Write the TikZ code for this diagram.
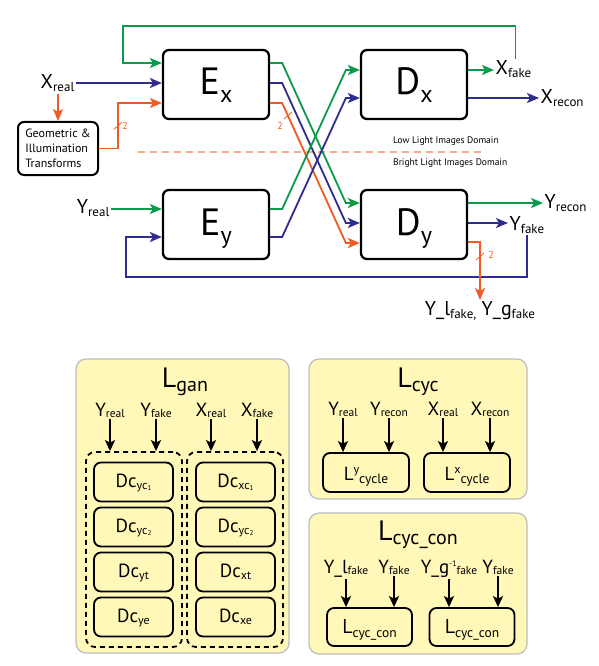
\documentclass[tikz,border=0pt]{standalone}
\usepackage{fontspec}
\setmainfont{PT Sans}
\usetikzlibrary{arrows.meta,calc}
\definecolor{cgreen}{HTML}{0B9A4A}
\definecolor{cblue}{HTML}{2E2D8F}
\definecolor{corange}{HTML}{F15A24}
\definecolor{csalmon}{HTML}{F8AC8E}
\definecolor{cpanel}{HTML}{FFF8B9}
\definecolor{cpborder}{HTML}{BDBDBD}
\newcommand\fs[1]{\fontsize{#1}{#1}\selectfont}
\newcommand\BigL[2]{{\fs{38}#1\raisebox{-8pt}{\fs{24}#2}}}
\newcommand\TopL[2]{{\fs{20}#1\raisebox{-3pt}{\fs{13}#2}}}
\newcommand\PTitle[2]{{\fs{28}#1\raisebox{-4pt}{\fs{20}#2}}}
\newcommand\PLab[2]{{\fs{19}#1\raisebox{-1.5pt}{\fs{11.5}#2}}}
\newcommand\Dcl[1]{{\fs{19}Dc\raisebox{-2pt}{\fs{12}#1}}}
\newcommand\myone{\raisebox{-1pt}{\fs{7}1}}
\newcommand\mytwo{\raisebox{-1pt}{\fs{7}2}}
\begin{document}
\begin{tikzpicture}[x=1pt,y=-1pt,
  box/.style={draw=black,line width=2.3pt,rounded corners=6pt,fill=white,minimum width=106pt,minimum height=69pt,inner sep=0pt,text height=27pt,text depth=6pt},
  gbox/.style={draw=black,line width=2pt,rounded corners=6pt,fill=white,minimum width=80pt,minimum height=53pt,align=left,inner sep=2pt,font=\fontsize{12}{15}\selectfont},
  lbl/.style={inner sep=1.5pt},
  conn/.style={line width=1.8pt},
  arr/.style={-{Stealth[length=12pt,width=10pt,inset=3pt]}},
  gr/.style={conn,draw=cgreen,arr},
  bl/.style={conn,draw=cblue,arr},
  orl/.style={conn,draw=corange,arr},
  tk/.style={draw=corange,line width=0.8pt},
  two/.style={text=corange,font=\fs{10},inner sep=0pt},
  dom/.style={font=\fs{9.5},inner sep=0pt,anchor=base west},
  panel/.style={draw=cpborder,line width=1.2pt,fill=cpanel,rounded corners=10pt,inner sep=0pt},
  dbox/.style={draw=black,line width=1.8pt,dash pattern=on 5pt off 4pt,rounded corners=9pt,inner sep=0pt,minimum width=96pt,minimum height=195pt},
  dc/.style={draw=black,line width=1.8pt,rounded corners=7pt,fill=cpanel,minimum width=79pt,minimum height=39pt,inner sep=0pt,text height=14pt,text depth=4pt},
  lc/.style={draw=black,line width=1.8pt,rounded corners=7pt,fill=cpanel,minimum width=86pt,minimum height=39pt,inner sep=0pt,text height=15pt,text depth=0pt},
  lcc/.style={draw=black,line width=1.8pt,rounded corners=7pt,fill=cpanel,minimum width=85pt,minimum height=38pt,inner sep=0pt,text height=14pt,text depth=2pt},
  karr/.style={line width=1.8pt,-{Stealth[length=11pt,width=10pt,inset=2.5pt]}}
]
\fill[white] (0,0) rectangle (598,666);
\useasboundingbox (0,0) rectangle (598,666);

% ---------- main blocks ----------
\node[box] (Ex) at (216,84.5) {\BigL{E}{x}};
\node[box] (Dx) at (414,84.5) {\BigL{D}{x}};
\node[box] (Ey) at (216,224.5) {\BigL{E}{y}};
\node[box] (Dy) at (414,224.5) {\BigL{D}{y}};
\node[gbox] (geo) at (58,148.5) {Geometric \&\\Illumination\\Transforms};

% ---------- labels ----------
\node[lbl,anchor=base east] (xr) at (76,89) {\TopL{X}{real}};
\node[lbl,anchor=base east] (yr) at (111,213) {\TopL{Y}{real}};
\node[lbl,anchor=base west] (xf) at (494,75) {\TopL{X}{fake}};
\node[lbl,anchor=base west] (xrc) at (539,103) {\TopL{X}{recon}};
\node[lbl,anchor=base west] (yrc) at (543,208) {\TopL{Y}{recon}};
\node[lbl,anchor=base west] (yf) at (508,230) {\TopL{Y}{fake}};
\node[lbl,anchor=north] (yl) at (480,300) {{\fs{20}Y\_l\raisebox{-3pt}{\fs{13}fake,} Y\_g\raisebox{-3pt}{\fs{13}fake}}};

% ---------- port coordinates ----------
\coordinate (exi1) at ([yshift=21.5pt]Ex.west);
\coordinate (exi2) at ([yshift=1.5pt]Ex.west);
\coordinate (exi3) at ([yshift=-18.5pt]Ex.west);
\coordinate (exo1) at ([yshift=21.5pt]Ex.east);
\coordinate (exo2) at ([yshift=1.5pt]Ex.east);
\coordinate (exo3) at ([yshift=-18.5pt]Ex.east);
\coordinate (eyi1) at ([yshift=15.5pt]Ey.west);
\coordinate (eyi2) at ([yshift=-12.5pt]Ey.west);
\coordinate (eyo1) at ([yshift=15.5pt]Ey.east);
\coordinate (eyo2) at ([yshift=-12.5pt]Ey.east);
\coordinate (dxi1) at ([yshift=14.5pt]Dx.west);
\coordinate (dxi2) at ([yshift=-13.5pt]Dx.west);
\coordinate (dxo1) at ([yshift=14.5pt]Dx.east);
\coordinate (dxo2) at ([yshift=-13.5pt]Dx.east);
\coordinate (dyi1) at ([yshift=21.5pt]Dy.west);
\coordinate (dyi2) at ([yshift=1.5pt]Dy.west);
\coordinate (dyi3) at ([yshift=-18.5pt]Dy.west);
\coordinate (dyo1) at ([yshift=21.5pt]Dy.east);
\coordinate (dyo2) at ([yshift=1.5pt]Dy.east);
\coordinate (dyo3) at ([yshift=-17.5pt]Dy.east);

% ---------- domain separator ----------
\draw[draw=csalmon,line width=1.5pt,dash pattern=on 7pt off 5pt] (138,152) -- (483,152);
\node[dom] (low) at (393,143.5) {Low Light Images Domain};
\node[dom] (bright) at (393,165) {Bright Light Images Domain};

% ---------- inputs ----------
\draw[bl] (exi2 -| xr.east) -- (exi2);
\draw[orl] (xr.south -| geo.north) -- (geo.north);
\draw[orl] (geo.east) -- ++(19,0) coordinate (g1) |- (exi3);
\draw[gr] (eyi1 -| yr.east) -- (eyi1);
\draw[gr] ([xshift=2pt]xf.north) |- (123,26) |- (exi1);
\draw[bl] (yf.south) |- (126,277) |- (eyi2);

% ---------- crossings ----------
\draw[gr] (exo1) -- ++(12,0) -- ($(dyi1)+(-14,0)$) -- (dyi1);
\draw[bl] (exo2) -- ++(12,0) -- ($(dyi2)+(-14,0)$) -- (dyi2);
\draw[orl] (exo3) -- ++(12,0) coordinate (ta) -- ($(dyi3)+(-14,0)$) coordinate (tb) -- (dyi3);
\draw[gr] (eyo1) -- ++(12,0) -- ($(dxi1)+(-14,0)$) -- (dxi1);
\draw[bl] (eyo2) -- ++(12,0) -- ($(dxi2)+(-14,0)$) -- (dxi2);

% ---------- outputs ----------
\draw[gr] (dxo1) -- (dxo1 -| xf.west);
\draw[bl] (dxo2) -- (dxo2 -| xrc.west);
\draw[gr] (dyo1) -- (dyo1 -| yrc.west);
\draw[bl] (dyo2) -- (dyo2 -| yf.west);
\draw[orl] (dyo3) -| (yl.north);

% ---------- "2" ticks ----------
\draw[tk] ($(ta)!0.09!(tb)$) ++(-4,3.5) -- ++(8,-7);
\node[two] (t1) at (280,126) {2};
\draw[tk] ($(g1)!0.5!(g1 |- exi3)$) ++(-4,3.5) -- ++(8,-7);
\node[two] (t2) at (125,126) {2};
\draw[tk] ($(dyo3 -| yl.north)!0.25!(yl.north)$) ++(-4,3.5) -- ++(8,-7);
\node[two] (t3) at (491,255) {2};

% ---------- panel L_gan ----------
\node[panel,minimum width=213pt,minimum height=294pt] (pgan) at (182.5,506) {};
\node[anchor=base,inner sep=0pt] (tgan) at (185,387) {\PTitle{L}{gan}};
\node[dbox] (dl) at (134,549.5) {};
\node[dbox] (dr) at (235,549.5) {};
\node[lbl,anchor=base] (ga) at (110,416) {\PLab{Y}{real}};
\node[lbl,anchor=base] (gb) at (156,416) {\PLab{Y}{fake}};
\node[lbl,anchor=base] (gc) at (211,416) {\PLab{X}{real}};
\node[lbl,anchor=base] (gd) at (257,416) {\PLab{X}{fake}};
\draw[karr] (ga.south) -- (ga.south |- dl.north);
\draw[karr] (gb.south) -- (gb.south |- dl.north);
\draw[karr] (gc.south) -- (gc.south |- dr.north);
\draw[karr] (gd.south) -- (gd.south |- dr.north);
\node[dc] (dl1) at (133.5,482) {\Dcl{yc\myone}};
\node[dc] (dl2) at (133.5,527) {\Dcl{yc\mytwo}};
\node[dc] (dl3) at (133.5,572) {\Dcl{yt}};
\node[dc] (dl4) at (133.5,617) {\Dcl{ye}};
\node[dc] (dr1) at (235.5,482) {\Dcl{xc\myone}};
\node[dc] (dr2) at (235.5,527) {\Dcl{yc\mytwo}};
\node[dc] (dr3) at (235.5,572) {\Dcl{xt}};
\node[dc] (dr4) at (235.5,617) {\Dcl{xe}};

% ---------- panel L_cyc ----------
\node[panel,minimum width=218pt,minimum height=140pt] (pcyc) at (418,429) {};
\node[anchor=base,inner sep=0pt] (tcyc) at (418,387) {\PTitle{L}{cyc}};
\node[lbl,anchor=base] (ca) at (343,415) {\PLab{Y}{real}};
\node[lbl,anchor=base] (cb) at (389,415) {\PLab{Y}{recon}};
\node[lbl,anchor=base] (cc) at (443,415) {\PLab{X}{real}};
\node[lbl,anchor=base] (cd) at (490,415) {\PLab{X}{recon}};
\node[lc] (ly) at (366,472.5) {{\fs{19}L\raisebox{7pt}{\fs{12}y}\raisebox{-3pt}{\fs{13.5}cycle}}};
\node[lc] (lx) at (467,472.5) {{\fs{19}L\raisebox{7pt}{\fs{12}x}\raisebox{-3pt}{\fs{13.5}cycle}}};
\draw[karr] (ca.south) -- (ca.south |- ly.north);
\draw[karr] (cb.south) -- (cb.south |- ly.north);
\draw[karr] (cc.south) -- (cc.south |- lx.north);
\draw[karr] (cd.south) -- (cd.south |- lx.north);

% ---------- panel L_cyc_con ----------
\node[panel,minimum width=218pt,minimum height=141pt] (pcon) at (418,583.5) {};
\node[anchor=base,inner sep=0pt] (tcon) at (418,540) {\PTitle{L}{cyc\_con}};
\node[lbl,anchor=base] (na) at (346,573) {\PLab{Y\_l}{fake}};
\node[lbl,anchor=base] (nb) at (394,573) {\PLab{Y}{fake}};
\node[lbl,anchor=base] (nc) at (449,573) {{\fs{19}Y\_g\raisebox{7pt}{\fs{8}-1}\raisebox{-1.5pt}{\fs{11.5}fake}}};
\node[lbl,anchor=base] (nd) at (498,573) {\PLab{Y}{fake}};
\node[lcc] (lca) at (369.5,627) {{\fs{20}L\raisebox{-4pt}{\fs{13.5}cyc\_con}}};
\node[lcc] (lcb) at (472,627) {{\fs{20}L\raisebox{-4pt}{\fs{13.5}cyc\_con}}};
\draw[karr] (na.south) -- (na.south |- lca.north);
\draw[karr] (nb.south) -- (nb.south |- lca.north);
\draw[karr] (nc.south) -- (nc.south |- lcb.north);
\draw[karr] (nd.south) -- (nd.south |- lcb.north);
\end{tikzpicture}
\end{document}
